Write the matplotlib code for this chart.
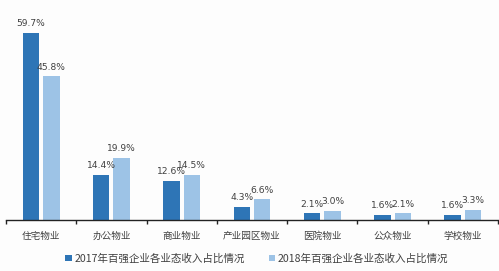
import matplotlib
matplotlib.use("Agg")
import matplotlib.pyplot as plt
import numpy as np

plt.rcParams["font.family"] = ["Noto Sans CJK SC", "DejaVu Sans"]

categories = ["住宅物业", "办公物业", "商业物业", "产业园区物业", "医院物业", "公众物业", "学校物业"]
share_2017 = [59.7, 14.4, 12.6, 4.3, 2.1, 1.6, 1.6]
share_2018 = [45.8, 19.9, 14.5, 6.6, 3.0, 2.1, 3.3]
labels = ["2017年百强企业各业态收入占比情况", "2018年百强企业各业态收入占比情况"]

dark = "#2E75B6"
light = "#9DC3E6"
text_col = "#404040"

fig = plt.figure(figsize=(4.99, 2.71), dpi=100)
fig.patch.set_facecolor("#fdfdfd")
ax = fig.add_axes([6 / 499, 51 / 271, 492 / 499, 210 / 271])
ax.set_facecolor("#fdfdfd")

x = np.arange(len(categories))
w = 0.235
off = 0.145
b1 = ax.bar(x - off, share_2017, w, color=dark, label=labels[0])
b2 = ax.bar(x + off, share_2018, w, color=light, label=labels[1])

# value labels, digits look wider in the original -> DejaVu
for bars, vals in ((b1, share_2017), (b2, share_2018)):
    for b, v in zip(bars, vals):
        ax.text(b.get_x() + b.get_width() / 2, v + 1.5, f"{v:.1f}%",
                ha="center", va="bottom", fontsize=6.6, color=text_col,
                family="DejaVu Sans")

ax.set_xlim(-0.5, len(categories) - 0.5)
ax.set_ylim(0, 67)
for s in ("top", "right", "left"):
    ax.spines[s].set_visible(False)
ax.spines["bottom"].set_color("#222222")
ax.spines["bottom"].set_linewidth(1.0)
ax.set_yticks([])
ax.set_xticks(np.arange(len(categories) + 1) - 0.5)
ax.set_xticklabels([])
ax.tick_params(axis="x", length=3, width=1, color="#222222")
ax.set_xticks(x, minor=True)
ax.set_xticklabels(categories, minor=True, fontsize=6.9, color=text_col)
ax.tick_params(axis="x", which="minor", length=0, pad=13.5)
for t in ax.get_xticklabels(minor=True):
    t.set_verticalalignment("baseline")

fig.legend(loc="center", bbox_to_anchor=(0.515, 0.046), ncol=2, frameon=False,
           fontsize=7.6, handlelength=0.6, handleheight=0.6, handletextpad=0.3,
           columnspacing=2.2, labelcolor=text_col)

fig.savefig("out.png", dpi=100, facecolor=fig.get_facecolor())
